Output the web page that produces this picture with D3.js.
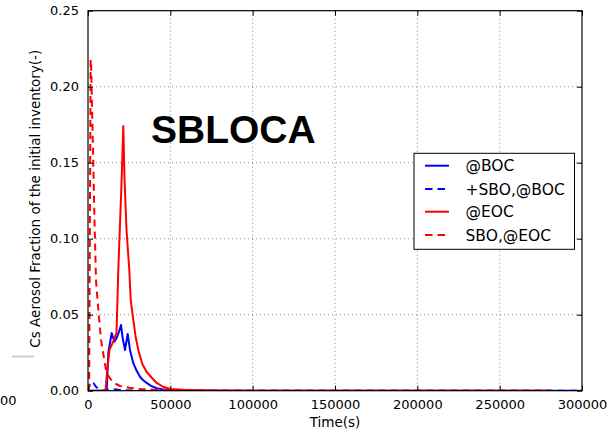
<!DOCTYPE html>
<html><head><meta charset="utf-8">
<script src="https://cdn.jsdelivr.net/npm/d3@7/dist/d3.min.js"></script>
<style>body{margin:0;background:#fff}svg{display:block}</style>
</head><body>
<svg id="c" width="612" height="431"></svg>
<script>
// Data: [time (s), Cs aerosol fraction]
const boc = [[0,0],[11356,0],[12328,0.0248],[14393,0.038],[15972,0.0322],[17430,0.0347],[18826,0.0388],[20041,0.0432],[20952,0.0353],[22470,0.0268],[24110,0.0373],[25507,0.0268],[27511,0.0181],[29454,0.0133],[31580,0.0092],[33400,0.007],[35648,0.0051],[38260,0.0032],[41721,0.0016],[44940,0.0009],[49799,0.0003],[68018,0],[300000,0]];
const sboBoc = [[0,0],[1215,0.0044],[2429,0.006],[3340,0.0051],[4676,0.0028],[6680,0.0008],[8500,0.0001],[11000,0.0001],[13360,0.001],[17000,0.0008],[22470,0.0003],[31580,0],[300000,0]];
const eoc = [[0,0],[10628,0],[11539,0.0123],[13057,0.0268],[15790,0.0334],[17308,0.038],[18400,0.0794],[20466,0.1399],[21438,0.1742],[22166,0.1399],[23381,0.1057],[25081,0.0794],[25932,0.0597],[27511,0.0466],[28846,0.036],[30547,0.0268],[32976,0.0176],[35648,0.0123],[38563,0.0087],[41721,0.0051],[45548,0.0026],[49799,0.0011],[58000,0.0006],[68018,0.0003],[98383,0],[281000,0]];
const sboEoc = [[0,0],[700,0.002],[1600,0.218],[1822,0.2175],[3037,0.158],[3947,0.112],[4858,0.0728],[5770,0.0597],[7895,0.0334],[10931,0.0136],[12450,0.0097],[14575,0.0064],[17000,0.0044],[19434,0.0031],[25000,0.0019],[31580,0.0011],[40000,0.0006],[49800,0.0003],[70000,0],[281000,0]];
const xTicks = [0,50000,100000,150000,200000,250000,300000];
const yTicks = [0,0.05,0.10,0.15,0.20,0.25];
const seriesNames = ["@BOC","+SBO,@BOC","@EOC","SBO,@EOC"];

const series = [
  {name: seriesNames[0], data: boc, color:"#0000ff", dash:null},
  {name: seriesNames[1], data: sboBoc, color:"#0000ff", dash:"7,5"},
  {name: seriesNames[2], data: eoc, color:"#ff0000", dash:null},
  {name: seriesNames[3], data: sboEoc, color:"#ff0000", dash:"7,5"}
];

const svg = d3.select("#c");
const L=88, R=582, T=10.7, B=390.7;
const x = d3.scaleLinear().domain([0,300000]).range([L,R]);
const y = d3.scaleLinear().domain([0,0.25]).range([B,T]);

// artifacts at left edge
svg.append("line").attr("x1",12).attr("x2",34).attr("y1",356.5).attr("y2",356.5)
  .attr("stroke","#cccccc").attr("stroke-width",2);
svg.append("text").attr("x",0).attr("y",405)
  .attr("font-family","DejaVu Sans").attr("font-size",13).text("00");

svg.append("defs").append("clipPath").attr("id","clip").append("rect")
  .attr("x",L).attr("y",T).attr("width",R-L).attr("height",B-T);

// grid
const g = svg.append("g");
g.selectAll(".gx").data(xTicks.slice(1,-1)).enter().append("line")
  .attr("x1",d=>x(d)).attr("x2",d=>x(d)).attr("y1",T).attr("y2",B)
  .attr("stroke","#000").attr("stroke-width",0.8).attr("stroke-dasharray","1,3").attr("opacity",0.6);
g.selectAll(".gy").data(yTicks.slice(1,-1)).enter().append("line")
  .attr("y1",d=>y(d)).attr("y2",d=>y(d)).attr("x1",L).attr("x2",R)
  .attr("stroke","#000").attr("stroke-width",0.8).attr("stroke-dasharray","1,3").attr("opacity",0.6);

// lines
const line = d3.line().x(d=>x(d[0])).y(d=>y(d[1]));
const lg = svg.append("g").attr("clip-path","url(#clip)");
series.forEach(s=>{
  lg.append("path").datum(s.data).attr("d",line).attr("fill","none")
    .attr("stroke",s.color).attr("stroke-width",2)
    .attr("stroke-dasharray",s.dash).attr("stroke-linejoin","round");
});

// axes (inward ticks)
const fnt = "DejaVu Sans";
const xa = svg.append("g").attr("transform",`translate(0,${B})`)
  .call(d3.axisBottom(x).tickValues(xTicks).tickFormat(d3.format("d")).tickSizeInner(-5).tickSizeOuter(0).tickPadding(9));
const xt = svg.append("g").attr("transform",`translate(0,${T})`)
  .call(d3.axisTop(x).tickValues(xTicks).tickFormat("").tickSizeInner(-5).tickSizeOuter(0));
const ya = svg.append("g").attr("transform",`translate(${L},0)`)
  .call(d3.axisLeft(y).tickValues(yTicks).tickFormat(d3.format(".2f")).tickSizeInner(-5).tickSizeOuter(0).tickPadding(9));
const yr = svg.append("g").attr("transform",`translate(${R},0)`)
  .call(d3.axisRight(y).tickValues(yTicks).tickFormat("").tickSizeInner(-5).tickSizeOuter(0));
[xa,xt,ya,yr].forEach(a=>{
  a.select(".domain").remove();
  a.selectAll("text").attr("font-family",fnt).attr("font-size",13).attr("fill","#000");
  a.selectAll("line").attr("stroke","#000");
});
svg.append("rect").attr("x",L).attr("y",T).attr("width",R-L).attr("height",B-T)
  .attr("fill","none").attr("stroke","#000").attr("stroke-width",1.2);

// labels
svg.append("text").attr("x",(L+R)/2).attr("y",427).attr("text-anchor","middle")
  .attr("font-family",fnt).attr("font-size",13.5).text("Time(s)");
svg.append("text").attr("transform",`translate(40,${(T+B)/2 - 2}) rotate(-90)`).attr("text-anchor","middle")
  .attr("font-family",fnt).attr("font-size",13.5).text("Cs Aerosol Fraction of the initial inventory(-)");
svg.append("text").attr("x",151).attr("y",143).attr("font-family","Liberation Sans")
  .attr("font-weight","bold").attr("font-size",39).text("SBLOCA");

// legend
const lgd = svg.append("g");
lgd.append("rect").attr("x",414).attr("y",153.3).attr("width",160.5).attr("height",96)
  .attr("fill","#fff").attr("stroke","#000").attr("stroke-width",1);
const rowY = [165.7,189,211.7,235];
series.forEach((s,i)=>{
  lgd.append("line").attr("x1",425).attr("x2",449).attr("y1",rowY[i]).attr("y2",rowY[i])
    .attr("stroke",s.color).attr("stroke-width",2).attr("stroke-dasharray",s.dash ? "7.5,5" : null);
  lgd.append("text").attr("x",465.5).attr("y",rowY[i]).attr("dy","0.36em")
    .attr("font-family",fnt).attr("font-size",15.5).text(s.name);
});
</script>
</body></html>
